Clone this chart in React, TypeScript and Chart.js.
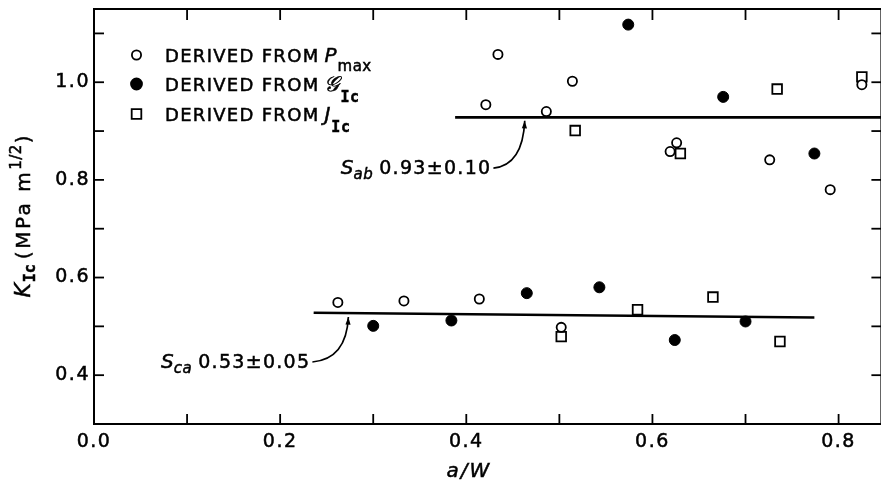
import React, { useEffect, useRef } from 'react';
import { Chart, registerables } from 'chart.js';

Chart.register(...registerables);

// ---- data (a/W , K_Ic) ----
const pmaxX = [0.262, 0.333, 0.414, 0.421, 0.434, 0.486, 0.502, 0.514, 0.619, 0.626, 0.726, 0.791, 0.825];
const pmaxY = [0.549, 0.552, 0.556, 0.954, 1.057, 0.940, 0.498, 1.002, 0.858, 0.876, 0.841, 0.780, 0.995];
const gicX = [0.300, 0.384, 0.465, 0.543, 0.574, 0.624, 0.676, 0.700, 0.774];
const gicY = [0.501, 0.512, 0.568, 0.580, 1.118, 0.472, 0.970, 0.510, 0.854];
const jicX = [0.502, 0.517, 0.584, 0.630, 0.665, 0.734, 0.737, 0.825];
const jicY = [0.479, 0.901, 0.534, 0.854, 0.560, 0.986, 0.469, 1.011];

// mean lines
const sabX = [0.388, 0.846];
const sabY = [0.928, 0.928];
const scaX = [0.236, 0.774];
const scaY = [0.528, 0.518];

// ticks
const xTickValues = [0.0, 0.1, 0.2, 0.3, 0.4, 0.5, 0.6, 0.7, 0.8];
const yTickValues = [0.3, 0.4, 0.5, 0.6, 0.7, 0.8, 0.9, 1.0, 1.1];
const xTickLabels = ['0.0', '0.2', '0.4', '0.6', '0.8'];
const yTickLabels = ['0.4', '0.6', '0.8', '1.0'];

// text
const legendPrefix = 'DERIVED FROM';
const legendSymbols = ['P', '𝒢', 'J'];
const legendSubs = ['max', 'Ic', 'Ic'];
const sabLabel = ['S', 'ab', '0.93±0.10'];
const scaLabel = ['S', 'ca', '0.53±0.05'];
const yTitle = ['K', 'Ic', '(MPa m', '1/2', ')'];
const xTitle = 'a/W';

const FAM = '"DejaVu Sans", sans-serif';
const MONO = '"DejaVu Sans Mono", monospace';
const STROKE = 0.5;

type Part = { t: string; f: string; dy?: number; ls?: number; gap?: number };

function partsWidth(ctx: CanvasRenderingContext2D, parts: Part[]) {
  let w = 0;
  for (const p of parts) {
    ctx.font = p.f;
    (ctx as any).letterSpacing = (p.ls || 0) + 'px';
    w += (p.gap || 0) + ctx.measureText(p.t).width;
  }
  return w;
}

function drawParts(ctx: CanvasRenderingContext2D, parts: Part[], x: number, y: number) {
  let cx = x;
  ctx.lineWidth = STROKE;
  for (const p of parts) {
    ctx.font = p.f;
    (ctx as any).letterSpacing = (p.ls || 0) + 'px';
    cx += p.gap || 0;
    ctx.fillText(p.t, cx, y + (p.dy || 0));
    ctx.strokeText(p.t, cx, y + (p.dy || 0));
    cx += ctx.measureText(p.t).width;
  }
}

function drawArrow(ctx: CanvasRenderingContext2D, sx: number, sy: number, tx: number, ty: number) {
  const cx = tx - 2;
  const cy = sy - 3;
  ctx.lineWidth = 1.7;
  ctx.beginPath();
  ctx.moveTo(sx, sy);
  ctx.quadraticCurveTo(cx, cy, tx, ty);
  ctx.stroke();
  const ang = Math.atan2(ty - cy, tx - cx);
  const L = 8;
  ctx.beginPath();
  ctx.moveTo(tx, ty);
  ctx.lineTo(tx - L * Math.cos(ang - 0.33), ty - L * Math.sin(ang - 0.33));
  ctx.lineTo(tx - L * Math.cos(ang + 0.33), ty - L * Math.sin(ang + 0.33));
  ctx.closePath();
  ctx.fill();
}

const decor = {
  id: 'decor',
  beforeDraw(chart: any) {
    chart.ctx.letterSpacing = '1.5px';
  },
  afterDraw(chart: any) {
    const { ctx, chartArea: a, scales } = chart;
    const xs = scales.x;
    const ys = scales.y;
    ctx.save();
    ctx.strokeStyle = '#000';
    ctx.fillStyle = '#000';
    ctx.lineCap = 'butt';

    // frame
    ctx.lineWidth = 2;
    ctx.beginPath();
    ctx.moveTo(a.left, a.top);
    ctx.lineTo(a.right, a.top);
    ctx.lineTo(a.right, a.bottom);
    ctx.lineTo(a.left, a.bottom);
    ctx.closePath();
    ctx.stroke();

    // inward ticks
    ctx.lineWidth = 1.8;
    const seg = (x1: number, y1: number, x2: number, y2: number) => {
      ctx.beginPath();
      ctx.moveTo(x1, y1);
      ctx.lineTo(x2, y2);
      ctx.stroke();
    };
    xTickValues.forEach((v) => {
      const p = xs.getPixelForValue(v);
      seg(p, a.bottom, p, a.bottom - 10);
      seg(p, a.top, p, a.top + 11);
    });
    yTickValues.forEach((v) => {
      const p = ys.getPixelForValue(v);
      seg(a.left, p, a.left + 10, p);
      seg(a.right, p, a.right - 10, p);
    });

    ctx.textAlign = 'left';
    ctx.textBaseline = 'alphabetic';

    // legend
    const rowY = [a.top + 46, a.top + 75, a.top + 105];
    const mx = a.left + 42.5;
    rowY.forEach((ry, i) => {
      ctx.lineWidth = 1.8;
      ctx.beginPath();
      if (i === 0) {
        ctx.arc(mx, ry, 4.6, 0, Math.PI * 2);
        ctx.fillStyle = '#fff';
        ctx.fill();
        ctx.stroke();
      } else if (i === 1) {
        ctx.arc(mx, ry, 5.5, 0, Math.PI * 2);
        ctx.fillStyle = '#000';
        ctx.fill();
        ctx.stroke();
      } else {
        const s = 6.8 * Math.SQRT1_2;
        ctx.rect(mx - s, ry - s, 2 * s, 2 * s);
        ctx.fillStyle = '#fff';
        ctx.fill();
        ctx.stroke();
      }
      ctx.fillStyle = '#000';
      const symFont = i === 1 ? 'italic 21px "DejaVu Serif", serif' : 'oblique 20px ' + FAM;
      const subFont = i === 0 ? '15px ' + FAM : 'bold 15px ' + MONO;
      const parts: Part[] = [
        { t: legendPrefix, f: '18px ' + FAM, ls: 1.3 },
        { t: legendSymbols[i], f: symFont, gap: 5 },
        { t: legendSubs[i], f: subFont, dy: i === 0 ? 9 : 11, ls: 0.5, gap: 1 },
      ];
      drawParts(ctx, parts, a.left + 71, ry + 6.5);
    });

    // annotations
    const annot = (lab: string[], endX: number, cy: number, arrowTip: [number, number]) => {
      const ex = xs.getPixelForValue(endX);
      const ey = ys.getPixelForValue(cy);
      const parts: Part[] = [
        { t: lab[0], f: 'oblique 20px ' + FAM },
        { t: lab[1], f: 'oblique 15px ' + FAM, dy: 5, ls: 0.5 },
        { t: lab[2], f: '19px ' + FAM, ls: 1.3, gap: 6 },
      ];
      const w = partsWidth(ctx, parts);
      ctx.fillStyle = '#000';
      drawParts(ctx, parts, ex - w, ey + 7);
      drawArrow(ctx, ex + 2, ey + 1, xs.getPixelForValue(arrowTip[0]), ys.getPixelForValue(arrowTip[1]));
    };
    annot(sabLabel, 0.427, 0.826, [0.4628, 0.921]);
    annot(scaLabel, 0.2325, 0.429, [0.2733, 0.519]);

    // y title (rotated)
    ctx.save();
    const cyMid = (a.top + a.bottom) / 2;
    ctx.translate(23, cyMid);
    ctx.rotate(-Math.PI / 2);
    const yParts: Part[] = [
      { t: yTitle[0], f: 'oblique 22px ' + FAM },
      { t: yTitle[1], f: 'bold 15px ' + MONO, dy: 5, gap: 1 },
      { t: yTitle[2], f: '20px ' + FAM, ls: 2.5, gap: 5 },
      { t: yTitle[3], f: '15px ' + FAM, dy: -9, ls: 0.5, gap: 0 },
      { t: yTitle[4], f: '20px ' + FAM, gap: 1 },
    ];
    const yw = partsWidth(ctx, yParts);
    drawParts(ctx, yParts, -yw / 2, 7);
    ctx.restore();

    // x title
    const xParts: Part[] = [{ t: xTitle, f: 'oblique 20px ' + FAM, ls: 2 }];
    const xw = partsWidth(ctx, xParts);
    drawParts(ctx, xParts, a.left + 375 - xw / 2, 477);

    ctx.restore();
  },
};

export default function App() {
  const ref = useRef<HTMLCanvasElement | null>(null);
  useEffect(() => {
    if (!ref.current) return;
    const pts = (xs: number[], ys: number[]) => xs.map((x, i) => ({ x, y: ys[i] }));
    const tickCb = (labels: string[]) => (v: any) => {
      const s = Number(v).toFixed(1);
      return labels.includes(s) ? s : null;
    };
    const chart = new Chart(ref.current, {
      type: 'scatter',
      data: {
        datasets: [
          {
            label: 'Derived from Pmax',
            data: pts(pmaxX, pmaxY),
            pointStyle: 'circle',
            pointRadius: 4.6,
            pointBorderWidth: 1.8,
            pointBackgroundColor: '#fff',
            pointBorderColor: '#000',
          },
          {
            label: 'Derived from GIc',
            data: pts(gicX, gicY),
            pointStyle: 'circle',
            pointRadius: 5.5,
            pointBorderWidth: 1,
            pointBackgroundColor: '#000',
            pointBorderColor: '#000',
          },
          {
            label: 'Derived from JIc',
            data: pts(jicX, jicY),
            pointStyle: 'rect',
            pointRadius: 6.8,
            pointBorderWidth: 1.8,
            pointBackgroundColor: '#fff',
            pointBorderColor: '#000',
          },
          {
            label: 'Sab 0.93±0.10',
            data: pts(sabX, sabY),
            showLine: true,
            borderColor: '#000',
            borderWidth: 2.6,
            pointRadius: 0,
          },
          {
            label: 'Sca 0.53±0.05',
            data: pts(scaX, scaY),
            showLine: true,
            borderColor: '#000',
            borderWidth: 2.6,
            pointRadius: 0,
          },
        ],
      },
      options: {
        responsive: true,
        maintainAspectRatio: false,
        animation: false,
        devicePixelRatio: 1,
        layout: { padding: { top: 9, right: 3, left: 0, bottom: 0 } },
        plugins: { legend: { display: false }, tooltip: { enabled: false } },
        scales: {
          x: {
            type: 'linear',
            min: 0,
            max: 0.846,
            grid: { display: false, drawTicks: false },
            border: { display: false },
            afterBuildTicks: (s: any) => {
              s.ticks = xTickValues.map((v) => ({ value: v }));
            },
            ticks: {
              autoSkip: false,
              maxRotation: 0,
              padding: 7,
              color: '#000',
              textStrokeColor: '#000',
              textStrokeWidth: STROKE,
              font: { family: 'DejaVu Sans', size: 19 },
              callback: tickCb(xTickLabels),
            },
            afterFit: (s: any) => {
              s.height = 62;
              s.paddingLeft = 0;
              s.paddingRight = 0;
            },
          },
          y: {
            type: 'linear',
            min: 0.3,
            max: 1.15,
            grid: { display: false, drawTicks: false },
            border: { display: false },
            afterBuildTicks: (s: any) => {
              s.ticks = yTickValues.map((v) => ({ value: v }));
            },
            ticks: {
              autoSkip: false,
              padding: 4,
              color: '#000',
              textStrokeColor: '#000',
              textStrokeWidth: STROKE,
              font: { family: 'DejaVu Sans', size: 19 },
              callback: tickCb(yTickLabels),
            },
            afterFit: (s: any) => {
              s.width = 94;
              s.paddingTop = 0;
              s.paddingBottom = 0;
            },
          },
        },
      },
      plugins: [decor],
    } as any);
    return () => chart.destroy();
  }, []);

  return (
    <div
      style={{
        position: 'absolute',
        left: 0,
        top: 0,
        width: 881,
        height: 486,
        overflow: 'hidden',
        background: '#fff',
      }}
    >
      <div style={{ position: 'relative', width: 890, height: 486 }}>
        <canvas ref={ref} />
      </div>
    </div>
  );
}
